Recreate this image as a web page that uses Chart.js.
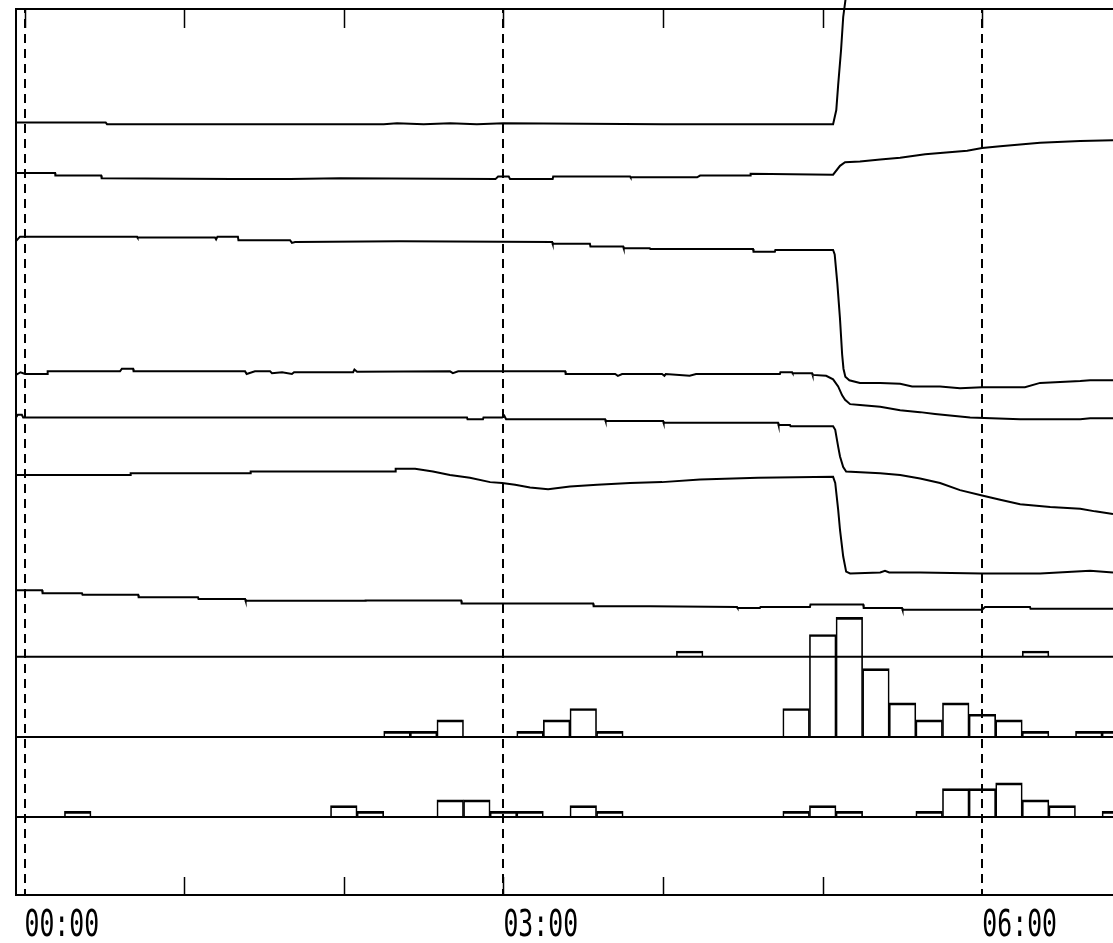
<!DOCTYPE html>
<html>
<head>
<meta charset="utf-8">
<script src="https://cdn.jsdelivr.net/npm/chart.js@4.4.1/dist/chart.umd.min.js"></script>
<style>
  html, body { margin: 0; padding: 0; background: #ffffff; }
  #wrap { width: 1113px; height: 943px; position: relative; }
</style>
</head>
<body>
<div id="wrap"><canvas id="c"></canvas></div>
<script>
// ---- DATA (time in minutes after 00:00, level in chart units 0..100) ----
const timeRange = [-3.2, 409.1];

const traceA = [[-3.2,87.2],[30.5,87.2],[31,87.0],[135,87.0],[140,87.1],[150,87.0],[160,87.1],[170,87.0],[180,87.1],[240,87.0],[303.9,87.0],[305.1,88.6],[305.8,91.4],[306.9,95.4],[307.7,99.1],[308.8,101.6],[310,104]];

const traceB = [[-3.2,81.5],[11.5,81.5],[11.6,81.2],[28.8,81.2],[29,80.9],[78,80.8],[100,80.8],[118.6,80.9],[177,80.8],[178,81.1],[182,81.1],[182.5,80.8],[198.5,80.8],[198.7,81.1],[227.6,81.1],[227.8,81.0],[252.8,81.0],[253.9,81.2],[272.7,81.2],[272.9,81.4],[303.9,81.3],[306.5,82.3],[308.4,82.7],[314,82.8],[321.6,83.0],[329.1,83.2],[338.5,83.6],[346.4,83.8],[354.3,84.0],[359.9,84.3],[366.7,84.5],[381.7,84.9],[396.8,85.1],[409.1,85.2]];

const traceC = [[-3.2,73.8],[-1.7,74.3],[42.3,74.3],[42.5,74.2],[71.6,74.2],[72,74.0],[72.5,74.3],[80.2,74.3],[80.4,73.9],[99.8,73.9],[100.5,73.6],[101.7,73.7],[141,73.8],[198.3,73.7],[198.5,73.5],[212.5,73.5],[212.7,73.2],[225,73.2],[225.2,73.0],[235,73.0],[235.2,72.9],[273.8,72.9],[274,72.6],[282,72.6],[282.2,72.8],[303.9,72.8],[304.5,72.3],[305.5,69.0],[306.5,65.0],[307.3,61.0],[307.8,59.4],[308.5,58.5],[310,58.1],[314,57.8],[321.6,57.8],[329.1,57.7],[333.6,57.4],[344.1,57.4],[351.6,57.2],[359.9,57.3],[376,57.3],[381.7,57.8],[396.8,58.0],[400.5,58.1],[409.1,58.1]];

const traceD = [[-3.2,58.7],[-1.5,59.0],[0.2,58.8],[8.5,58.8],[8.7,59.1],[35.9,59.1],[36.6,59.4],[40.8,59.4],[41,59.1],[82.9,59.1],[83.5,58.8],[86.6,59.1],[92.3,59.1],[93,58.9],[96.8,59.0],[100.5,58.8],[101.3,59.0],[123.5,59.0],[124,59.3],[125,59.05],[159.9,59.1],[161,58.9],[163,59.1],[203.2,59.1],[203.4,58.8],[222,58.8],[223,58.6],[224.6,58.8],[239.6,58.8],[240.5,58.6],[241,58.8],[250,58.6],[252.4,58.8],[283.9,58.8],[284.1,59.0],[288.5,59.0],[288.7,58.9],[296,58.9],[296.2,58.7],[301.3,58.6],[303.9,58.2],[305.8,57.4],[307.3,56.4],[308.4,55.9],[310.3,55.4],[314,55.3],[321.6,55.1],[329.1,54.7],[336.6,54.5],[342.2,54.3],[355.4,53.9],[374.2,53.7],[396.8,53.7],[400.5,53.8],[409.1,53.8]];

const traceE = [[-3.2,53.9],[-2.5,54.2],[-1,54.2],[-0.5,53.9],[166.3,53.9],[166.5,53.7],[172.3,53.7],[172.5,53.9],[179.5,53.9],[180.3,54.1],[181,53.7],[218.2,53.7],[218.4,53.5],[240,53.5],[240.2,53.3],[283.2,53.3],[283.4,53.05],[287.7,53.05],[287.9,52.9],[303.9,52.9],[304.7,52.5],[305.8,50.6],[306.5,49.5],[307.7,48.3],[308.8,47.8],[321.6,47.6],[329.1,47.4],[336.6,47.0],[344.1,46.5],[351.6,45.7],[359.9,45.1],[366.7,44.6],[374.2,44.1],[385.5,43.8],[396.8,43.6],[402.4,43.3],[409.1,43.0]];

const traceF = [[-3.2,47.4],[39.7,47.4],[39.9,47.6],[84.8,47.6],[85,47.8],[139.3,47.8],[139.5,48.1],[146.8,48.1],[153.5,47.8],[159.9,47.4],[167.4,47.1],[175.0,46.6],[179.5,46.5],[184.4,46.3],[190.0,46.0],[196.8,45.8],[205.0,46.1],[215.2,46.3],[227.6,46.5],[239.6,46.6],[253.9,46.9],[275.7,47.1],[303.9,47.2],[304.7,46.5],[305.8,43.5],[306.5,41.2],[307.7,38.2],[308.8,36.5],[310.3,36.3],[321.6,36.4],[323.4,36.6],[325,36.4],[336.6,36.4],[359.9,36.3],[381.7,36.3],[400.5,36.6],[409.1,36.4]];

const traceG = [[-3.2,34.4],[6.6,34.4],[6.8,34.05],[21.6,34.05],[21.8,33.9],[42.7,33.9],[42.9,33.6],[65.2,33.6],[65.4,33.4],[82.9,33.4],[83.1,33.2],[128,33.2],[128.2,33.25],[164.1,33.25],[164.3,32.9],[213.7,32.9],[213.9,32.6],[235.1,32.6],[267.8,32.5],[268,32.4],[276.4,32.4],[276.6,32.5],[295.2,32.5],[295.4,32.8],[315.2,32.8],[315.4,32.4],[329.8,32.4],[330,32.2],[359.9,32.2],[361,32.5],[377.9,32.5],[378.1,32.3],[409.1,32.3]];

// histogram counts per 10-minute bin: [bin centre (min), count]
const histH  = [[250,1],[380,1]];
const hist1  = [[140,1],[150,1],[160,3],[190,1],[200,3],[210,5],[220,1],[290,5],[300,18],[310,21],[320,12],[330,6],[340,3],[350,6],[360,4],[370,3],[380,1],[400,1],[410,1]];
const hist2  = [[20,1],[120,2],[130,1],[160,3],[170,3],[180,1],[190,1],[210,2],[220,1],[290,1],[300,2],[310,1],[340,1],[350,5],[360,5],[370,6],[380,3],[390,2],[410,1]];

const histBaselines = [26.9, 17.83, 8.80];   // lane levels of the three histogram strips
const countUnit = 0.643;                        // chart units per count

const topTickHours = [0,1,2,3,4,5,6];
const bottomTickHours = [1,2,3,4,5];
const dashedHours = [0,3,6];
const tickLabels = ['00:00','03:00','06:00'];

// ---- BUILD ----
const toXY = arr => arr.map(([x,y]) => ({x, y}));
function lineDS(arr, extra) {
  return Object.assign({
    type: 'line', data: toXY(arr), borderColor: '#000', borderWidth: 2,
    pointRadius: 0, tension: 0, fill: false, order: 1
  }, extra || {});
}
function histDS(arr, base) {
  return {
    type: 'bar',
    data: arr.map(([t,c]) => ({x: t, y: [base, base + c * countUnit]})),
    backgroundColor: 'rgba(0,0,0,0)', borderColor: '#000',
    borderWidth: {top: 2, left: 1, right: 1, bottom: 0}, borderSkipped: false,
    grouped: false, barPercentage: 1, categoryPercentage: 1, order: 2
  };
}
function baseLineDS(base) {
  return lineDS([[timeRange[0], base],[timeRange[1], base]]);
}

const datasets = [
  lineDS(traceA, {clip: {left: 2, top: false, right: 2, bottom: 2}}),
  lineDS(traceB), lineDS(traceC), lineDS(traceD), lineDS(traceE), lineDS(traceF), lineDS(traceG),
  baseLineDS(histBaselines[0]), baseLineDS(histBaselines[1]), baseLineDS(histBaselines[2]),
  histDS(histH, histBaselines[0]), histDS(hist1, histBaselines[1]), histDS(hist2, histBaselines[2])
];

const framePlugin = {
  id: 'frame',
  afterDatasetsDraw(chart) {
    const {ctx, chartArea: a, scales: {x}} = chart;
    ctx.save();
    ctx.strokeStyle = '#000';
    ctx.lineWidth = 2;
    ctx.beginPath();
    ctx.moveTo(a.right + 2, a.top);
    ctx.lineTo(a.left, a.top);
    ctx.lineTo(a.left, a.bottom);
    ctx.lineTo(a.right + 2, a.bottom);
    ctx.stroke();
    ctx.lineWidth = 1.5;
    topTickHours.forEach(h => {
      const px = Math.round(x.getPixelForValue(h * 60)) + 0.5;
      ctx.beginPath(); ctx.moveTo(px, a.top); ctx.lineTo(px, a.top + 19); ctx.stroke();
    });
    bottomTickHours.forEach(h => {
      const px = Math.round(x.getPixelForValue(h * 60)) + 0.5;
      ctx.beginPath(); ctx.moveTo(px, a.bottom); ctx.lineTo(px, a.bottom - 18); ctx.stroke();
    });
    ctx.lineWidth = 2;
    ctx.setLineDash([9, 6]);
    ctx.lineDashOffset = -10;
    dashedHours.forEach(h => {
      const px = Math.round(x.getPixelForValue(h * 60));
      ctx.beginPath(); ctx.moveTo(px, a.top); ctx.lineTo(px, a.bottom); ctx.stroke();
    });
    ctx.setLineDash([]);
    ctx.fillStyle = '#000';
    ctx.font = '37px "DejaVu Sans Mono"';
    ctx.textBaseline = 'alphabetic';
    ctx.textAlign = 'left';
    dashedHours.forEach((h, i) => {
      const px = x.getPixelForValue(h * 60);
      ctx.save();
      ctx.translate(px, a.bottom + 41);
      ctx.scale(0.67, 1);
      ctx.fillText(tickLabels[i], 0, 0);
      ctx.restore();
    });
    ctx.restore();
  }
};

new Chart(document.getElementById('c'), {
  type: 'bar',
  data: { datasets },
  options: {
    responsive: true, maintainAspectRatio: false, animation: false,
    devicePixelRatio: 1, events: [],
    layout: { padding: { left: 16, top: 9, right: 0, bottom: 48 } },
    plugins: { legend: { display: false }, tooltip: { enabled: false } },
    scales: {
      x: { type: 'linear', min: timeRange[0], max: timeRange[1], offset: false, display: false },
      y: { type: 'linear', min: 0, max: 100, display: false }
    }
  },
  plugins: [framePlugin]
});
</script>
</body>
</html>
